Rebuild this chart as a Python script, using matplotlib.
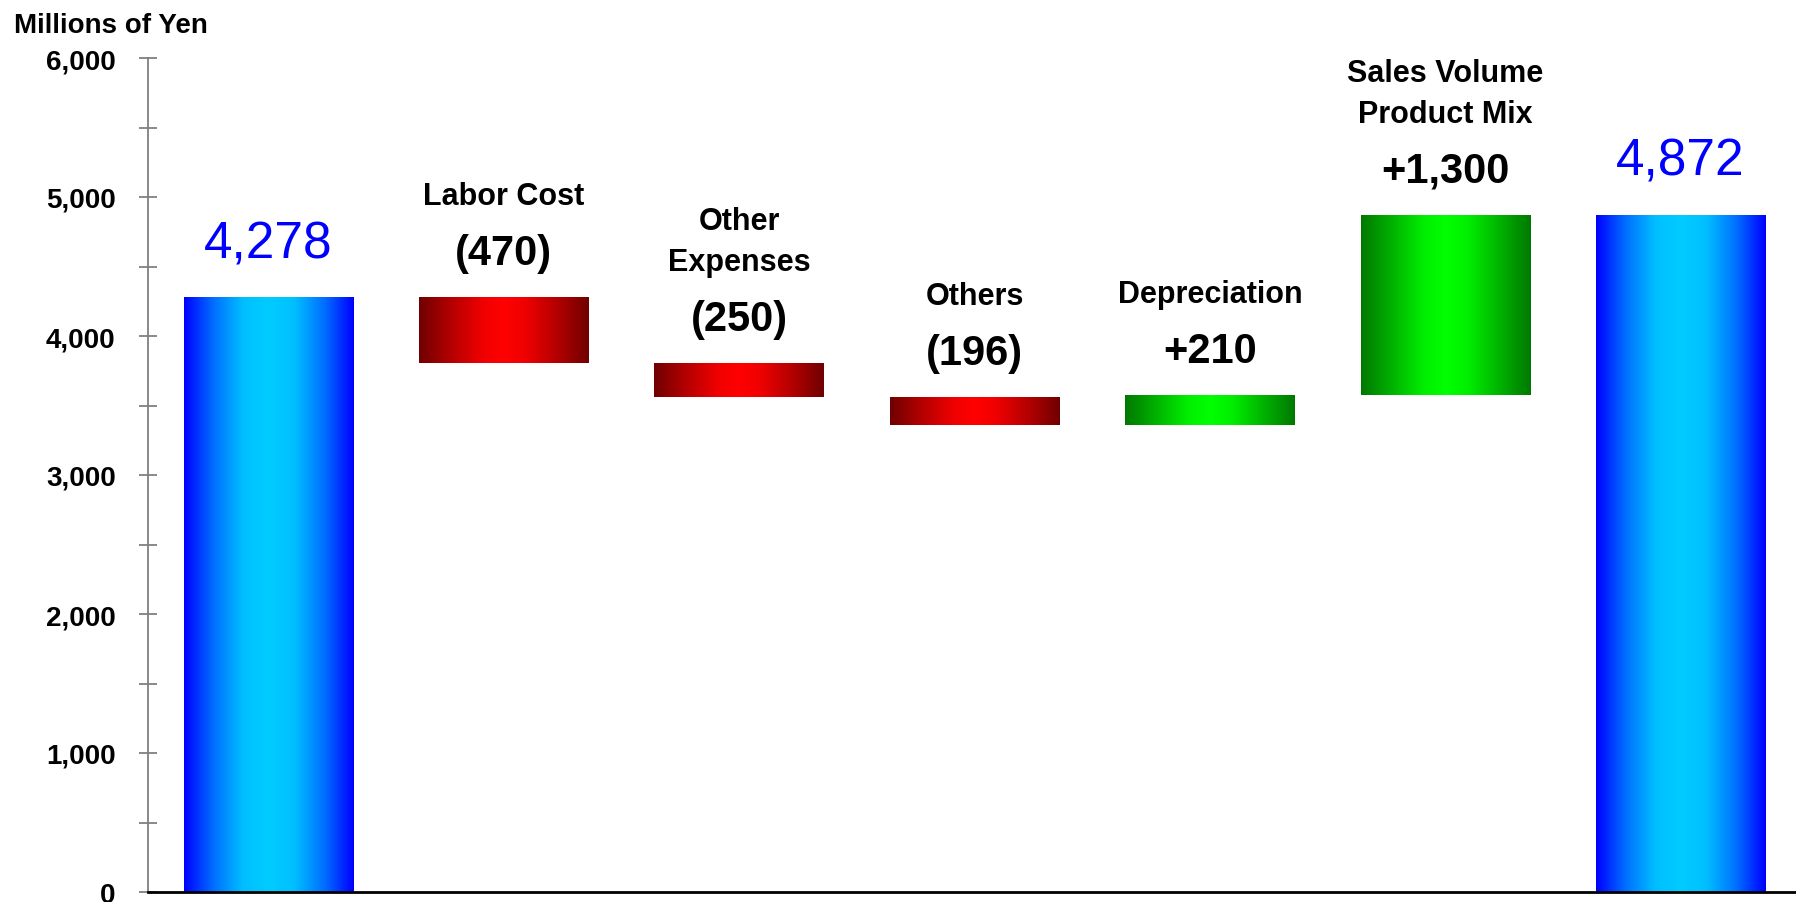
import numpy as np
import matplotlib
matplotlib.use('Agg')
import matplotlib.pyplot as plt
from matplotlib.colors import LinearSegmentedColormap
from matplotlib.ticker import MultipleLocator, FuncFormatter

# bridge from last year's operating income to this year's
names = ['', 'Labor Cost', 'Other\nExpenses', 'Others', 'Depreciation',
         'Sales Volume\nProduct Mix', '']
changes = [4278, -470, -250, -196, 210, 1300, 4872]
labels = ['4,278', '(470)', '(250)', '(196)', '+210', '+1,300', '4,872']
kinds = ['total', 'down', 'down', 'down', 'up', 'up', 'total']

plt.rcParams['font.family'] = ['Liberation Sans', 'DejaVu Sans']

ramps = {
    'total': LinearSegmentedColormap.from_list('blu', [(0.0, '#0000ff'), (0.35, '#0070ff'),
                                                        (0.7, '#00bfff'), (1.0, '#00ccff')]),
    'down': LinearSegmentedColormap.from_list('red', [(0.0, '#700000'), (0.35, '#b00000'),
                                                       (0.75, '#f00000'), (1.0, '#ff0000')]),
    'up': LinearSegmentedColormap.from_list('grn', [(0.0, '#007800'), (0.35, '#00b000'),
                                                     (0.75, '#00f000'), (1.0, '#00ff00')]),
}

# running bottoms / heights for the waterfall
bottoms, heights = [], []
level = 0
for k, c in zip(kinds, changes):
    if k == 'total':
        bottoms.append(0)
        heights.append(c)
        level = c
    elif c < 0:
        bottoms.append(level + c)
        heights.append(-c)
        level += c
    else:
        bottoms.append(level)
        heights.append(c)
        level += c

fig = plt.figure(figsize=(17.96, 9.03), dpi=100)
ax = fig.add_axes([148 / 1796, 10 / 903, 1 - 148 / 1796, 834 / 903])
ax.set_xlim(-0.512, 6.49)
ax.set_ylim(0, 6000)

x = np.arange(len(changes))
bars = ax.bar(x, heights, bottom=bottoms, width=0.72, color='none', linewidth=0)

t = np.linspace(-1, 1, 256)
prof = (1 - np.abs(t))[None, :]
for b, k in zip(bars, kinds):
    x0, y0 = b.get_x(), b.get_y()
    im = ax.imshow(prof, cmap=ramps[k], vmin=0, vmax=1, aspect='auto',
                   extent=[x0, x0 + b.get_width(), y0, y0 + b.get_height()],
                   interpolation='bilinear', zorder=2)
    im.set_clip_path(b)

ax.set_xlim(-0.512, 6.49)
ax.set_ylim(0, 6000)

px = 0.72  # pixels -> points at 100 dpi
for i, b in enumerate(bars):
    top = b.get_y() + b.get_height()
    if kinds[i] == 'total':
        ax.annotate(labels[i], (x[i], top), xytext=(0, 40 * px), textcoords='offset points',
                    ha='center', va='baseline', fontsize=37, color='#0000ff')
    else:
        ax.annotate(labels[i], (x[i], top), xytext=(0, 33 * px), textcoords='offset points',
                    ha='center', va='baseline', fontsize=30, fontweight='bold', color='black')
        ax.annotate(names[i], (x[i], top), xytext=(0, 86 * px), textcoords='offset points',
                    ha='center', va='bottom', fontsize=22, fontweight='bold', color='black',
                    linespacing=1.45, multialignment='center')

ax.yaxis.set_major_locator(MultipleLocator(1000))
ax.yaxis.set_minor_locator(MultipleLocator(500))
ax.yaxis.set_major_formatter(FuncFormatter(lambda v, p: f'{int(v):,}'))
ax.tick_params(axis='y', which='both', direction='inout', length=12.5, width=1.3,
               color='#808080', pad=17)
ax.tick_params(axis='y', which='major', labelsize=20)
for lab in ax.get_yticklabels():
    lab.set_fontweight('bold')
ax.set_xticks([])

for s in ['top', 'right']:
    ax.spines[s].set_visible(False)
ax.spines['left'].set_color('#808080')
ax.spines['left'].set_linewidth(1.3)
ax.spines['bottom'].set_color('black')
ax.spines['bottom'].set_linewidth(2)
ax.spines['bottom'].set_zorder(3)

fig.text(14 / 1796, 1 - 33 / 903, 'Millions of Yen', fontsize=20, fontweight='bold',
         ha='left', va='baseline')

fig.savefig('out.png', dpi=100)
